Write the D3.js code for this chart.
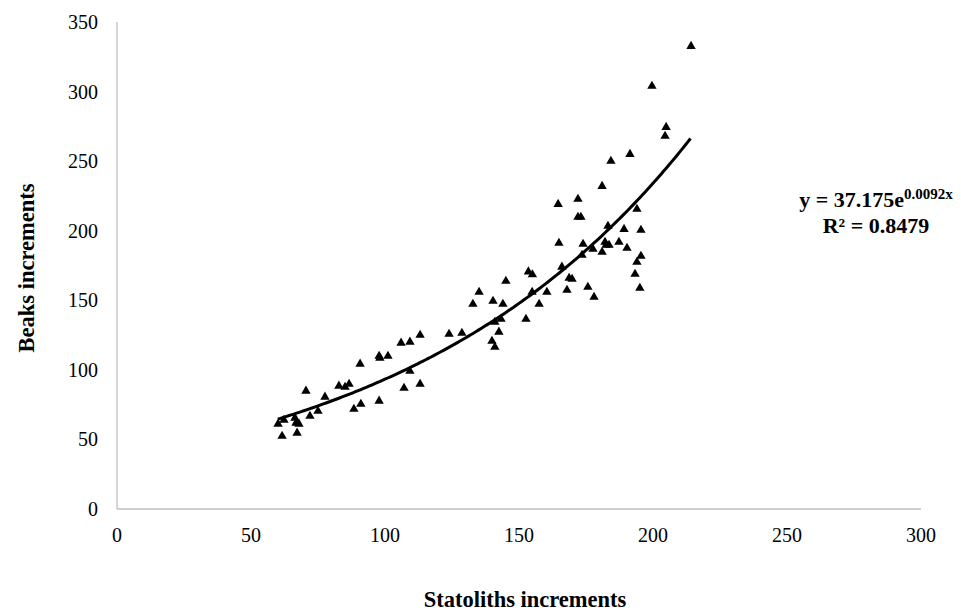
<!DOCTYPE html>
<html>
<head>
<meta charset="utf-8">
<script src="https://cdn.jsdelivr.net/npm/d3@7"></script>
<style>
  body { margin: 0; background: #fff; }
  text { font-family: "Liberation Serif", "Times New Roman", serif; }
</style>
</head>
<body>
<script>
// statoliths increments (x) and beaks increments (y)
var statoliths = [60.1, 61.6, 62.3, 66.4, 66.8, 67.9, 67.2, 72.0, 75.0, 70.5, 77.6, 82.8, 85.1, 86.6,
  88.4, 91.0, 90.7, 97.8, 97.8, 98.1, 101.1, 107.1, 109.3, 113.1, 106.0, 109.3, 113.1, 123.9,
  128.7, 135.1, 132.8, 140.3, 144.0, 145.1, 141.0, 143.3, 142.5, 139.9, 141.0, 152.6, 153.5, 155.0,
  157.5, 154.9, 160.4, 167.9, 166.0, 168.7, 169.8, 175.7, 178.0, 173.5, 164.6, 172.0, 172.0, 173.1,
  164.9, 173.9, 177.6, 182.1, 182.5, 183.6, 181.0, 187.3, 190.3, 183.2, 189.2, 181.0, 184.3, 191.4,
  194.0, 195.5, 195.5, 194.0, 193.3, 195.1, 204.5, 204.9, 199.6, 214.2];
var beaks = [61.1, 52.4, 63.9, 65.4, 61.8, 61.1, 54.6, 66.8, 70.4, 84.8, 80.5, 88.4, 87.6, 89.8,
  71.8, 75.4, 104.2, 77.6, 109.9, 108.5, 109.9, 86.9, 99.1, 89.8, 119.3, 120.0, 125.0, 125.7,
  126.4, 155.9, 147.3, 149.4, 147.3, 163.8, 134.3, 136.5, 127.2, 120.7, 116.4, 136.5, 170.5, 168.5,
  147.3, 155.9, 155.9, 157.3, 173.9, 165.9, 165.2, 159.5, 152.3, 182.5, 219.0, 222.7, 209.8, 209.8,
  191.1, 190.4, 186.8, 191.8, 189.7, 189.7, 184.6, 191.8, 187.5, 203.3, 201.1, 232.0, 250.0, 255.0,
  215.5, 200.4, 181.8, 177.4, 168.8, 158.8, 268.0, 274.4, 303.9, 332.6];

// exponential trendline y = a * e^(b x), shown on the chart
var fitA = 37.175, fitB = 0.0092;
var fitRange = [60, 214];
var eqText = ["y = 37.175e", "0.0092x"];
var r2Text = "R² = 0.8479";

var xTicks = [0, 50, 100, 150, 200, 250, 300];
var yTicks = [0, 50, 100, 150, 200, 250, 300, 350];

var width = 961, height = 611;
var svg = d3.select("body").append("svg")
  .attr("width", width)
  .attr("height", height);

var x = d3.scaleLinear().domain([0, 300]).range([117, 921]);
var y = d3.scaleLinear().domain([0, 350]).range([509, 22]);

// axis lines
svg.append("line")
  .attr("x1", x(0)).attr("x2", x(0))
  .attr("y1", y(0)).attr("y2", y(350))
  .attr("stroke", "#bfbfbf").attr("stroke-width", 1.3);
svg.append("line")
  .attr("x1", x(0)).attr("x2", x(300))
  .attr("y1", y(0)).attr("y2", y(0))
  .attr("stroke", "#bfbfbf").attr("stroke-width", 1.3);

// tick labels
svg.selectAll(".ytick").data(yTicks).enter().append("text")
  .attr("x", 98)
  .attr("y", function (d) { return y(d); })
  .attr("dy", "0.35em")
  .attr("text-anchor", "end")
  .attr("font-size", 20)
  .text(function (d) { return d; });

svg.selectAll(".xtick").data(xTicks).enter().append("text")
  .attr("x", function (d) { return x(d); })
  .attr("y", 542)
  .attr("text-anchor", "middle")
  .attr("font-size", 20)
  .text(function (d) { return d; });

// axis titles
svg.append("text")
  .attr("transform", "translate(34,268) rotate(-90)")
  .attr("text-anchor", "middle")
  .attr("font-size", 22.5)
  .attr("font-weight", "bold")
  .text("Beaks increments");

svg.append("text")
  .attr("x", 525)
  .attr("y", 607)
  .attr("text-anchor", "middle")
  .attr("font-size", 22.5)
  .attr("font-weight", "bold")
  .text("Statoliths increments");

// trendline
var curve = d3.range(fitRange[0], fitRange[1] + 0.5, 1);
svg.append("path")
  .datum(curve)
  .attr("fill", "none")
  .attr("stroke", "#000")
  .attr("stroke-width", 3)
  .attr("d", d3.line()
    .x(function (d) { return x(d); })
    .y(function (d) { return y(fitA * Math.exp(fitB * d)); }));

// points
var pts = statoliths.map(function (v, i) { return [v, beaks[i]]; });
svg.selectAll(".pt").data(pts).enter().append("path")
  .attr("d", d3.symbol().type(d3.symbolTriangle).size(38))
  .attr("transform", function (d) { return "translate(" + x(d[0]) + "," + y(d[1]) + ")"; })
  .attr("fill", "#000");

// equation
var eq = svg.append("text")
  .attr("x", 876)
  .attr("y", 207)
  .attr("text-anchor", "middle")
  .attr("font-size", 22)
  .attr("font-weight", "bold");
eq.append("tspan").text(eqText[0]);
eq.append("tspan").attr("dy", -8).attr("font-size", 15).text(eqText[1]);

svg.append("text")
  .attr("x", 876)
  .attr("y", 233)
  .attr("text-anchor", "middle")
  .attr("font-size", 22)
  .attr("font-weight", "bold")
  .text(r2Text);
</script>
</body>
</html>
